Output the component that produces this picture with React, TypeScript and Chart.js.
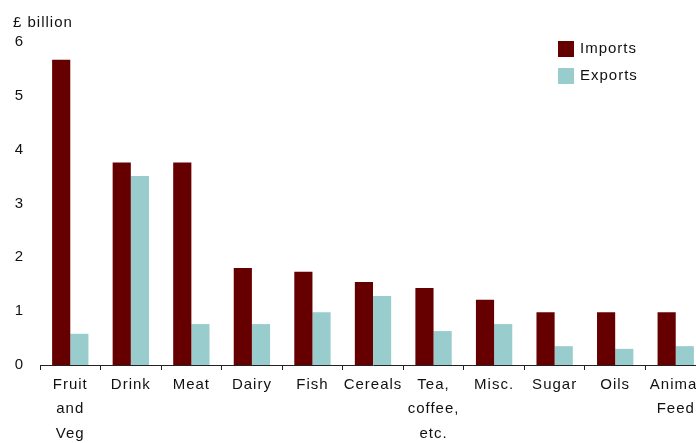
import React, { useEffect, useRef } from "react";
import { Chart, registerables } from "chart.js";

Chart.register(...registerables);

const categories: (string | string[])[] = [
  ["Fruit", "and", "Veg"],
  "Drink",
  "Meat",
  "Dairy",
  "Fish",
  "Cereals",
  ["Tea,", "coffee,", "etc."],
  "Misc.",
  "Sugar",
  "Oils",
  ["Animal", "Feed"],
];
const imports = [5.67, 3.76, 3.76, 1.8, 1.73, 1.54, 1.43, 1.21, 0.98, 0.98, 0.98];
const exports_ = [0.58, 3.51, 0.76, 0.76, 0.98, 1.28, 0.63, 0.76, 0.35, 0.3, 0.35];
const yTicks = [0, 1, 2, 3, 4, 5, 6];
const seriesNames = ["Imports", "Exports"];
const seriesColors = ["#660000", "#99cccc"];
const unitLabel = "£ billion";

const FONT = "'Liberation Sans', Arial, sans-serif";

export default function App() {
  const ref = useRef<HTMLCanvasElement | null>(null);

  useEffect(() => {
    if (!ref.current) return;
    const extras = {
      id: "extras",
      beforeDraw(chart: any) {
        const ctx = chart.ctx;
        try { (ctx as any).letterSpacing = "1px"; } catch (e) {}
      },
      afterDraw(chart: any) {
        const ctx = chart.ctx;
        const area = chart.chartArea;
        ctx.save();
        try { (ctx as any).letterSpacing = "1px"; } catch (e) {}
        ctx.font = `15px ${FONT}`;
        ctx.fillStyle = "#111";
        ctx.textBaseline = "middle";
        ctx.textAlign = "left";
        ctx.fillText(unitLabel, 13, area.top - 19);
        // legend
        seriesNames.forEach((name, i) => {
          const y = area.top + 7 + i * 27;
          ctx.fillStyle = seriesColors[i];
          ctx.fillRect(558, y - 8, 16, 16);
          ctx.fillStyle = "#111";
          ctx.fillText(name, 580, y);
        });
        ctx.restore();
      },
    };
    const chart = new Chart(ref.current, {
      type: "bar",
      data: {
        labels: categories,
        datasets: seriesNames.map((name, i) => ({
          label: name,
          data: i === 0 ? imports : exports_,
          backgroundColor: seriesColors[i],
          borderWidth: 0,
          categoryPercentage: 0.6,
          barPercentage: 1.0,
        })),
      },
      options: {
        animation: false,
        responsive: false,
        maintainAspectRatio: false,
        layout: { padding: { top: 42, right: 14, left: 0, bottom: 0 } },
        plugins: { legend: { display: false }, tooltip: { enabled: false } },
        scales: {
          x: {
            afterFit: (s: any) => { s.height = 78; },
            grid: {
              display: true,
              drawOnChartArea: false,
              drawTicks: true,
              tickLength: 5,
              color: "#222",
              offset: true,
            },
            border: { display: true, color: "#222", width: 1 },
            ticks: {
              color: "#111",
              font: { family: FONT, size: 15, lineHeight: 1.65 },
              padding: 2,
              maxRotation: 0,
              autoSkip: false,
            },
          },
          y: {
            min: 0,
            max: 6,
            afterFit: (s: any) => { s.width = 40; },
            afterBuildTicks: (s: any) => { s.ticks = yTicks.map((v) => ({ value: v })); },
            grid: { display: false },
            border: { display: false },
            ticks: {
              color: "#111",
              font: { family: FONT, size: 15 },
              padding: 8,
            },
          },
        },
      },
      plugins: [extras],
    });
    return () => chart.destroy();
  }, []);

  return (
    <div style={{ position: "fixed", left: 0, top: 0, width: 696, height: 443, overflow: "hidden", background: "#fff" }}>
      <canvas ref={ref} width={720} height={443} style={{ width: 720, height: 443, display: "block" }} />
    </div>
  );
}
